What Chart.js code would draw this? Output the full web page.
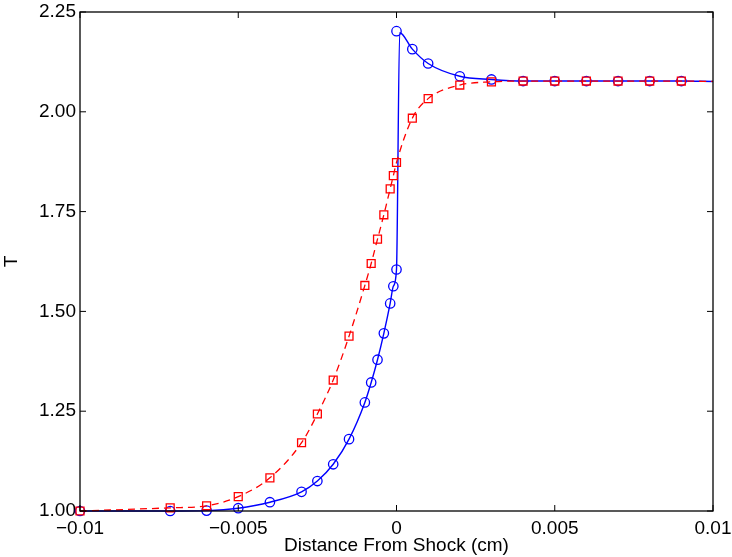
<!DOCTYPE html>
<html>
<head>
<meta charset="utf-8">
<script src="https://cdn.jsdelivr.net/npm/chart.js@4/dist/chart.umd.min.js"></script>
<style>
  html, body { margin: 0; padding: 0; background: #fff; }
  #wrap { width: 732px; height: 557px; position: relative; }
</style>
</head>
<body>
<div id="wrap"><canvas id="c" width="732" height="557"></canvas></div>
<script>
// ---- data ----
const blueMarkerX = [-0.01, -0.00715, -0.006, -0.005, -0.004, -0.003, -0.0025, -0.002, -0.0015, -0.001, -0.0008, -0.0006, -0.0004, -0.0002, -0.0001, 0, 0, 0.0005, 0.001, 0.002, 0.003, 0.004, 0.005, 0.006, 0.007, 0.008, 0.009];
const blueMarkerT = [1.000, 1.000, 1.001, 1.007, 1.022, 1.048, 1.075, 1.117, 1.180, 1.272, 1.322, 1.379, 1.445, 1.520, 1.563, 1.605, 2.202, 2.157, 2.121, 2.089, 2.081, 2.077, 2.077, 2.077, 2.077, 2.077, 2.077];

const blueLineX = [-0.01, -0.00715, -0.006, -0.005, -0.004, -0.003, -0.0025, -0.002, -0.0015, -0.001, -0.0008, -0.0006, -0.0004, -0.0002, -0.0001, 0, 0.0001, 0.0005, 0.001, 0.002, 0.003, 0.004, 0.005, 0.006, 0.007, 0.008, 0.009, 0.01];
const blueLineT = [1.000, 1.000, 1.001, 1.007, 1.022, 1.048, 1.075, 1.117, 1.180, 1.272, 1.322, 1.379, 1.445, 1.520, 1.563, 1.605, 2.198, 2.157, 2.121, 2.089, 2.081, 2.077, 2.077, 2.077, 2.077, 2.077, 2.077, 2.076];

const redMarkerX = [-0.01, -0.00715, -0.006, -0.005, -0.004, -0.003, -0.0025, -0.002, -0.0015, -0.001, -0.0008, -0.0006, -0.0004, -0.0002, -0.0001, 0, 0.0005, 0.001, 0.002, 0.003, 0.004, 0.005, 0.006, 0.007, 0.008, 0.009];
const redMarkerT = [1.000, 1.008, 1.013, 1.036, 1.083, 1.171, 1.243, 1.328, 1.438, 1.565, 1.620, 1.681, 1.742, 1.807, 1.840, 1.873, 1.984, 2.033, 2.067, 2.075, 2.077, 2.077, 2.077, 2.077, 2.077, 2.077];

const redLineX = [-0.01, -0.00715, -0.006, -0.005, -0.004, -0.003, -0.0025, -0.002, -0.0015, -0.001, -0.0008, -0.0006, -0.0004, -0.0002, -0.0001, 0, 0.0005, 0.001, 0.002, 0.003, 0.004, 0.005, 0.006, 0.007, 0.008, 0.009, 0.01];
const redLineT = [1.000, 1.008, 1.013, 1.036, 1.083, 1.171, 1.243, 1.328, 1.438, 1.565, 1.620, 1.681, 1.742, 1.807, 1.840, 1.873, 1.984, 2.033, 2.067, 2.075, 2.077, 2.077, 2.077, 2.077, 2.077, 2.077, 2.076];

const xTickValues = [-0.01, -0.005, 0, 0.005, 0.01];
const xTickLabels = ["\u22120.01", "\u22120.005", "0", "0.005", "0.01"];
const yTickValues = [1.00, 1.25, 1.50, 1.75, 2.00, 2.25];
const yTickLabels = ["1.00", "1.25", "1.50", "1.75", "2.00", "2.25"];

const xTitle = "Distance From Shock (cm)";
const yTitle = "T";

const pts = (xs, ys) => xs.map((x, i) => ({ x: x, y: ys[i] }));

const FONT = "'Liberation Sans', Arial, Helvetica, sans-serif";
const BLUE = "#0000ff";
const RED = "#ff0000";

const frameTicks = {
  id: 'frameTicks',
  afterDraw(chart) {
    const { ctx, chartArea: a, scales } = chart;
    const L = 6;
    ctx.save();
    ctx.strokeStyle = '#000';
    ctx.lineWidth = 1.3;
    ctx.strokeRect(a.left, a.top, a.right - a.left, a.bottom - a.top);
    ctx.lineWidth = 1;
    ctx.beginPath();
    scales.x.ticks.forEach(t => {
      const px = scales.x.getPixelForValue(t.value);
      ctx.moveTo(px, a.bottom); ctx.lineTo(px, a.bottom - L);
      ctx.moveTo(px, a.top); ctx.lineTo(px, a.top + L);
    });
    scales.y.ticks.forEach(t => {
      const py = scales.y.getPixelForValue(t.value);
      ctx.moveTo(a.left, py); ctx.lineTo(a.left + L, py);
      ctx.moveTo(a.right, py); ctx.lineTo(a.right - L, py);
    });
    ctx.stroke();
    ctx.restore();
  }
};

new Chart(document.getElementById('c'), {
  type: 'scatter',
  data: {
    datasets: [
      {
        data: pts(redMarkerX, redMarkerT), showLine: false, order: 0,
        pointStyle: 'rect', pointRadius: 5.6, pointBorderWidth: 1.3,
        pointBorderColor: RED, pointBackgroundColor: 'rgba(0,0,0,0)'
      },
      {
        data: pts(redLineX, redLineT), showLine: true, order: 1,
        borderColor: RED, borderWidth: 1.3, borderDash: [7, 5],
        pointRadius: 0, cubicInterpolationMode: 'monotone'
      },
      {
        data: pts(blueMarkerX, blueMarkerT), showLine: false, order: 2,
        pointStyle: 'circle', pointRadius: 4.7, pointBorderWidth: 1.3,
        pointBorderColor: BLUE, pointBackgroundColor: 'rgba(0,0,0,0)'
      },
      {
        data: pts(blueLineX, blueLineT), showLine: true, order: 3,
        borderColor: BLUE, borderWidth: 1.4,
        pointRadius: 0, cubicInterpolationMode: 'monotone'
      }
    ]
  },
  options: {
    responsive: false,
    animation: false,
    clip: false,
    layout: { padding: { top: 12, right: 19, left: 0, bottom: 0 } },
    plugins: { legend: { display: false }, tooltip: { enabled: false } },
    scales: {
      x: {
        type: 'linear', min: -0.01, max: 0.01,
        afterBuildTicks: s => { s.ticks = xTickValues.map(v => ({ value: v })); },
        afterFit: s => { s.height = 46; s.paddingLeft = 0; s.paddingRight = 0; },
        grid: { display: false, drawTicks: false }, border: { display: false },
        ticks: {
          autoSkip: false, maxRotation: 0, padding: 6,
          color: '#000', font: { family: FONT, size: 19 },
          callback: (v, i) => xTickLabels[i]
        },
        title: { display: true, text: xTitle, color: '#000', font: { family: FONT, size: 19 }, padding: { top: 2, bottom: 0 } }
      },
      y: {
        type: 'linear', min: 1.0, max: 2.25,
        afterBuildTicks: s => { s.ticks = yTickValues.map(v => ({ value: v })); },
        afterFit: s => { s.width = 80; s.paddingTop = 0; s.paddingBottom = 0; },
        grid: { display: false, drawTicks: false }, border: { display: false },
        ticks: {
          autoSkip: false, padding: 4,
          color: '#000', font: { family: FONT, size: 19 },
          callback: (v, i) => yTickLabels[i]
        },
        title: { display: true, text: yTitle, color: '#000', font: { family: FONT, size: 19 }, padding: { top: 0, bottom: 0 } }
      }
    }
  },
  plugins: [frameTicks]
});
</script>
</body>
</html>
